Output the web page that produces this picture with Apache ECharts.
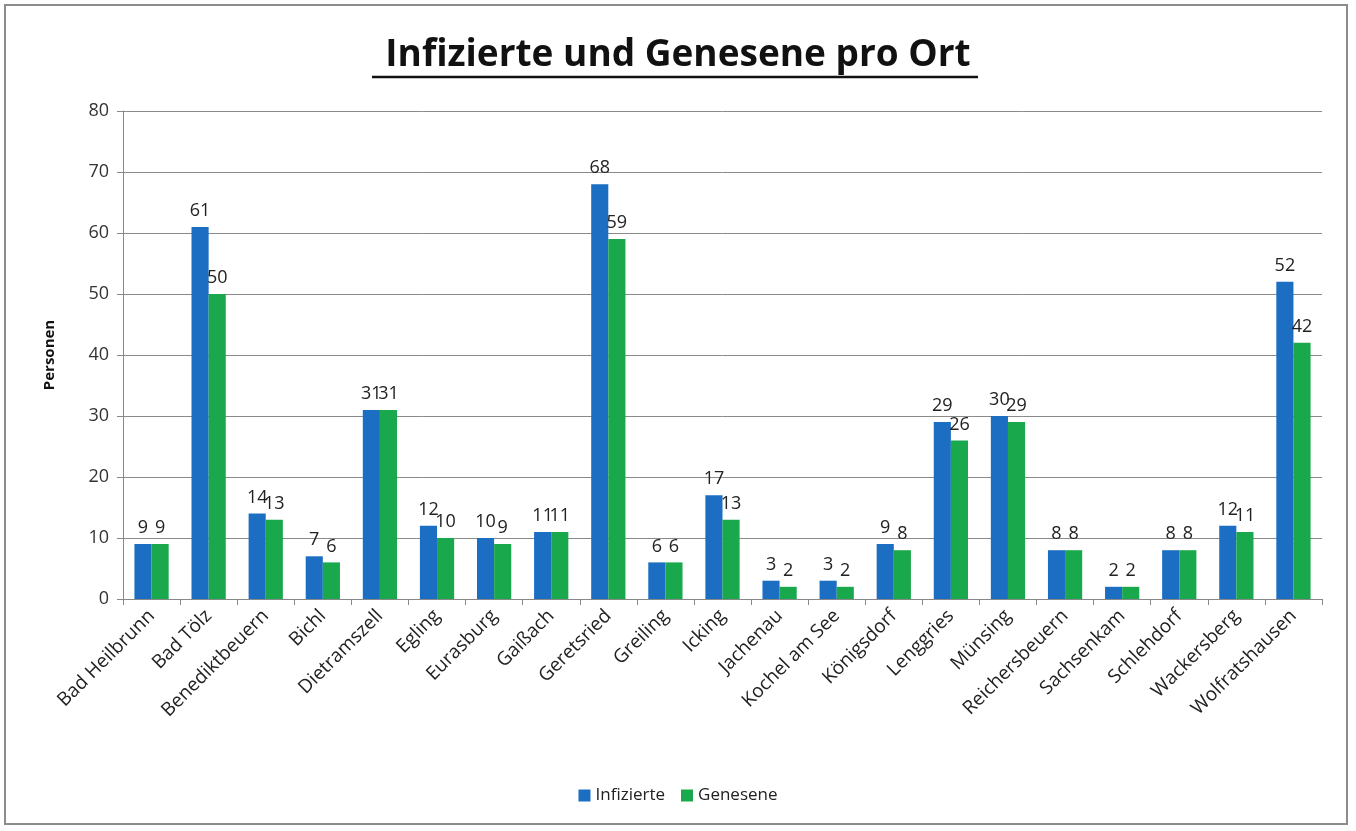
<!DOCTYPE html>
<html>
<head>
<meta charset="utf-8">
<script src="https://cdn.jsdelivr.net/npm/echarts@6/dist/echarts.min.js"></script>
<style>
  html, body { margin: 0; padding: 0; background: #fff; }
  #frame { position: absolute; left: 4px; top: 4px; width: 1344px; height: 821px; border: 2px solid #8c8c8c; box-sizing: border-box; }
  #chart { position: absolute; left: 0; top: 0; width: 1356px; height: 831px; }
</style>
</head>
<body>
<div id="frame"></div>
<div id="chart"></div>
<script>
// Orte und Werte
const orte = ['Bad Heilbrunn', 'Bad Tölz', 'Benediktbeuern', 'Bichl', 'Dietramszell', 'Egling',
  'Eurasburg', 'Gaißach', 'Geretsried', 'Greiling', 'Icking', 'Jachenau', 'Kochel am See',
  'Königsdorf', 'Lenggries', 'Münsing', 'Reichersbeuern', 'Sachsenkam', 'Schlehdorf',
  'Wackersberg', 'Wolfratshausen'];
const infizierte = [9, 61, 14, 7, 31, 12, 10, 11, 68, 6, 17, 3, 3, 9, 29, 30, 8, 2, 8, 12, 52];
const genesene = [9, 50, 13, 6, 31, 10, 9, 11, 59, 6, 13, 2, 2, 8, 26, 29, 8, 2, 8, 11, 42];
const yTicks = { min: 0, max: 80, interval: 10 };

const font = '"Open Sans", "DejaVu Sans", sans-serif';

function barSeries(name, data, color) {
  return {
    name: name,
    type: 'bar',
    data: data,
    barGap: '0%',
    barCategoryGap: '40%',
    itemStyle: { color: color },
    label: {
      show: true,
      position: 'top',
      distance: 7,
      color: '#222',
      fontSize: 18,
      fontFamily: font
    }
  };
}

const chart = echarts.init(document.getElementById('chart'));
chart.setOption({
  animation: false,
  title: {
    text: 'Infizierte und Genesene pro Ort',
    left: 'center',
    top: 32,
    textStyle: { fontFamily: font, fontWeight: 'bold', fontSize: 37, color: '#111' }
  },
  graphic: [{
    type: 'line',
    shape: { x1: 372, y1: 77, x2: 978, y2: 77 },
    style: { stroke: '#111', lineWidth: 2.5 }
  }],
  grid: { left: 123, right: 34, top: 111, bottom: 232 },
  legend: {
    bottom: 22,
    left: 'center',
    itemWidth: 12,
    itemHeight: 12,
    itemGap: 16,
    icon: 'rect',
    textStyle: { fontFamily: font, fontSize: 17, color: '#222' },
    data: ['Infizierte', 'Genesene']
  },
  xAxis: {
    type: 'category',
    data: orte,
    axisLine: { lineStyle: { color: '#888' } },
    axisTick: { show: true, length: 6, lineStyle: { color: '#888' } },
    axisLabel: {
      rotate: 45,
      interval: 0,
      margin: 14,
      fontFamily: font,
      fontSize: 19,
      color: '#222'
    }
  },
  yAxis: {
    type: 'value',
    min: yTicks.min,
    max: yTicks.max,
    interval: yTicks.interval,
    name: 'Personen',
    nameLocation: 'middle',
    nameRotate: 90,
    nameGap: 66,
    nameTextStyle: { fontFamily: font, fontWeight: 'bold', fontSize: 15, color: '#111' },
    axisLine: { show: true, lineStyle: { color: '#888' } },
    axisTick: { show: true, length: 6, lineStyle: { color: '#888' } },
    axisLabel: { fontFamily: font, fontSize: 18, color: '#333', margin: 14 },
    splitLine: { lineStyle: { color: '#8a8a8a' } }
  },
  series: [
    barSeries('Infizierte', infizierte, '#1b6ec2'),
    barSeries('Genesene', genesene, '#19a84c')
  ]
});
</script>
</body>
</html>
